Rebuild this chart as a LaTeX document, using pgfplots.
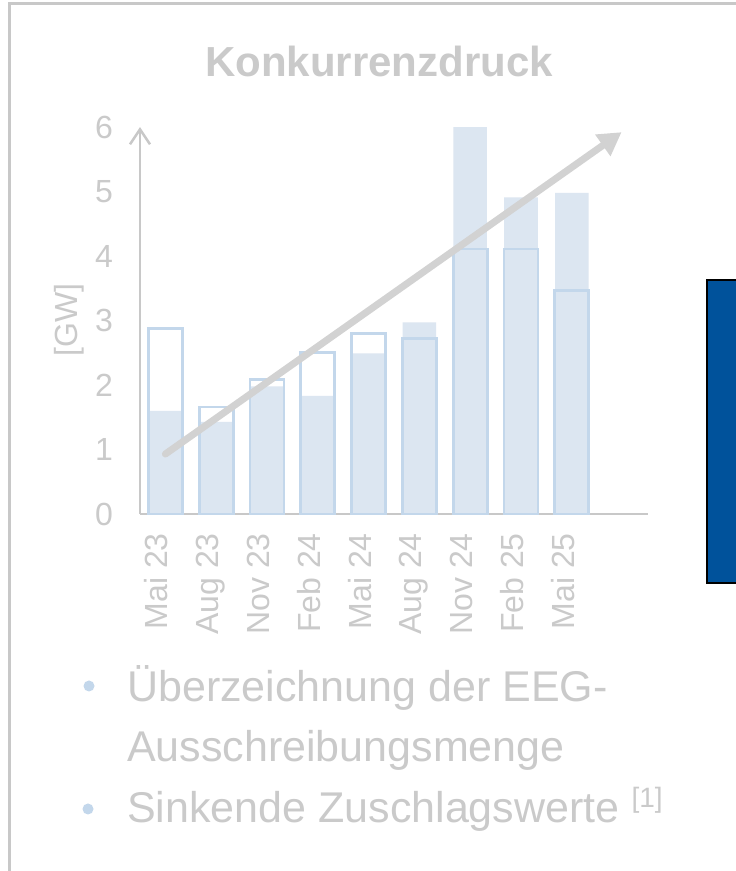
\documentclass[border=0pt]{standalone}
\usepackage{fontspec}
\setmainfont{Liberation Sans}
\usepackage{pgfplots}
\pgfplotsset{compat=1.18}
\usetikzlibrary{arrows.meta}
\definecolor{txtgray}{RGB}{202,202,202}
\definecolor{axgray}{RGB}{200,200,200}
\definecolor{arrgray}{RGB}{210,210,210}
\definecolor{barfill}{RGB}{220,230,241}
\definecolor{barline}{RGB}{195,215,235}
\definecolor{boxblue}{RGB}{0,82,155}
\begin{document}
\begin{tikzpicture}
\useasboundingbox (0pt,0pt) rectangle (736pt,871pt);
\fill[white] (0pt,0pt) rectangle (736pt,871pt);
% frame
\draw[axgray, line width=3pt] (9pt,-5pt) -- (9pt,867pt) -- (745pt,867pt);
% title
\node[txtgray, font=\fontsize{42}{50}\selectfont\bfseries, inner sep=0pt, anchor=base] at (379pt,794pt) {Konkurrenzdruck};
% y label
\node[rotate=90, txtgray, font=\fontsize{32}{38}\selectfont, inner sep=0pt] at (69pt,551pt) {[GW]};
\begin{axis}[
  at={(140pt,357pt)}, anchor=south west,
  scale only axis, width=508pt, height=387pt,
  xmin=-0.5, xmax=9.5, ymin=0, ymax=6,
  axis lines=left,
  clip=false,
  xtick={0,...,8},
  xticklabels={Mai 23,Aug 23,Nov 23,Feb 24,Mai 24,Aug 24,Nov 24,Feb 25,Mai 25},
  ytick={0,...,6},
  /pgf/number format/assume math mode=true,
  tick label style={txtgray, font=\fontsize{32}{38}\selectfont},
  xticklabel style={rotate=90, anchor=east, inner sep=0pt, text height=0.72em, text depth=0.24em},
  xticklabel shift=19pt,
  yticklabel style={anchor=east, inner sep=0pt},
  yticklabel shift=27pt,
  major tick length=0pt,
  axis line style={axgray, line width=2.5pt},
  x axis line style={-},
  y axis line style={-{Straight Barb[length=15pt,width=20pt]}},
]
% bid volume (filled)
\addplot[ybar, bar width=0.66, bar shift=0pt, fill=barfill, draw=none]
  coordinates {(0,1.60) (1,1.43) (2,1.98) (3,1.83) (4,2.49) (5,2.97) (6,6.00) (7,4.91) (8,4.98)};
% tender volume (outline)
\addplot[ybar, bar width=0.67, bar shift=0pt, fill=none, draw=barline, line width=2.8pt]
  coordinates {(0,2.87) (1,1.66) (2,2.09) (3,2.50) (4,2.80) (5,2.72) (6,4.11) (7,4.11) (8,3.46)};
% trend arrow
\addplot[arrgray, line width=7pt, line cap=round, -{Triangle[length=23pt,width=25pt]}]
  coordinates {(0,0.93) (8.98,5.92)};
\end{axis}
% blue box
\draw[black, line width=2pt, fill=boxblue] (707pt,591pt) rectangle (750pt,288pt);
% bullets
\fill[barline] (89pt,185pt) circle (5.5pt);
\node[anchor=base west, inner sep=0pt, txtgray, font=\fontsize{43}{50}\selectfont] at (127pt,169pt) {Überzeichnung der EEG-};
\node[anchor=base west, inner sep=0pt, txtgray, font=\fontsize{43}{50}\selectfont] at (127pt,109pt) {Ausschreibungsmenge};
\fill[barline] (88pt,62pt) circle (5.5pt);
\node[anchor=base west, inner sep=0pt, txtgray, font=\fontsize{43}{50}\selectfont] at (127pt,48pt) {Sinkende Zuschlagswerte \raisebox{15pt}{\fontsize{28}{32}\selectfont[1]}};
\end{tikzpicture}
\end{document}
